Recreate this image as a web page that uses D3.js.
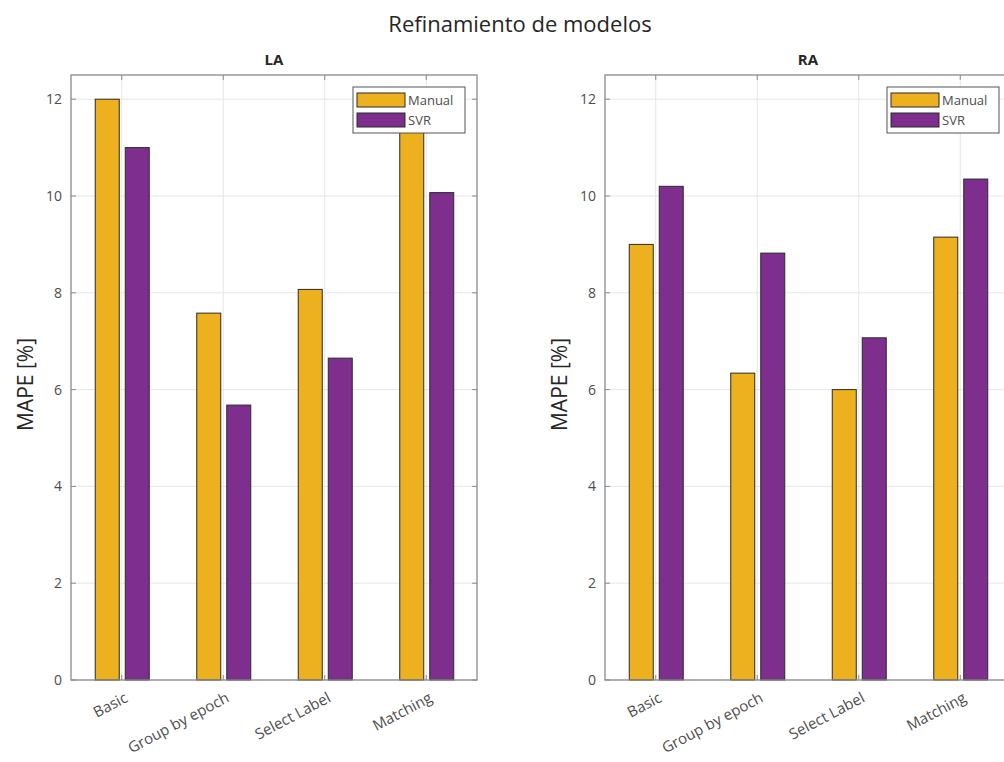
<!DOCTYPE html>
<html>
<head>
<meta charset="utf-8">
<script src="https://cdn.jsdelivr.net/npm/d3@7"></script>
<style>
  html, body { margin: 0; padding: 0; background: #fff; }
  svg { display: block; font-family: "Open Sans", "Noto Sans", sans-serif; }
</style>
</head>
<body>
<svg id="chart" width="1004" height="762"></svg>
<script>
// Categories, series and values for both panels
const categories = ["Basic", "Group by epoch", "Select Label", "Matching"];
const seriesNames = ["Manual", "SVR"];
const seriesColors = ["#EDB120", "#7E2F8E"];
const laManual = [12.0, 7.58, 8.07, 11.6];
const laSVR = [11.0, 5.68, 6.65, 10.07];
const raManual = [9.0, 6.34, 6.0, 9.15];
const raSVR = [10.2, 8.82, 7.07, 10.35];
const yTicks = [0, 2, 4, 6, 8, 10, 12];
const yMax = 12.5;

const svg = d3.select("#chart");

svg.append("text")
  .attr("x", 520).attr("y", 32)
  .attr("text-anchor", "middle")
  .attr("font-size", 22)
  .attr("fill", "#262626")
  .text("Refinamiento de modelos");

function panel(title, left, manual, svr) {
  const top = 75, bottom = 680, width = 406;
  const g = svg.append("g");
  const x = d3.scaleBand().domain(categories).range([left, left + width]).padding(0);
  const xs = d3.scaleBand().domain(seriesNames).range([0, 54]).paddingInner(0.2);
  const y = d3.scaleLinear().domain([0, yMax]).range([bottom, top]);

  // grid
  g.selectAll(".gy").data(yTicks).join("line")
    .attr("x1", left).attr("x2", left + width)
    .attr("y1", d => y(d)).attr("y2", d => y(d))
    .attr("stroke", "#e6e6e6").attr("stroke-width", 1);
  g.selectAll(".gx").data(categories).join("line")
    .attr("x1", d => x(d) + x.bandwidth() / 2).attr("x2", d => x(d) + x.bandwidth() / 2)
    .attr("y1", top).attr("y2", bottom)
    .attr("stroke", "#e6e6e6").attr("stroke-width", 1);

  // bars
  const rows = categories.map((c, i) => ({ c, vals: [manual[i], svr[i]] }));
  rows.forEach(r => {
    r.vals.forEach((v, k) => {
      const cx = x(r.c) + x.bandwidth() / 2 - 27 + xs(seriesNames[k]);
      g.append("rect")
        .attr("x", cx + 0.5).attr("y", y(v))
        .attr("width", xs.bandwidth()).attr("height", y(0) - y(v))
        .attr("fill", seriesColors[k])
        .attr("stroke", "#2a2a2a").attr("stroke-width", 1);
    });
  });

  // axes box
  g.append("rect")
    .attr("x", left).attr("y", top).attr("width", width).attr("height", bottom - top)
    .attr("fill", "none").attr("stroke", "#8a8a8a").attr("stroke-width", 1.3);

  // ticks
  const tl = 5;
  yTicks.forEach(t => {
    g.append("line").attr("x1", left).attr("x2", left + tl).attr("y1", y(t)).attr("y2", y(t)).attr("stroke", "#8a8a8a");
    g.append("line").attr("x1", left + width).attr("x2", left + width - tl).attr("y1", y(t)).attr("y2", y(t)).attr("stroke", "#8a8a8a");
  });
  categories.forEach(c => {
    const cx = x(c) + x.bandwidth() / 2;
    g.append("line").attr("x1", cx).attr("x2", cx).attr("y1", bottom).attr("y2", bottom - tl).attr("stroke", "#8a8a8a");
    g.append("line").attr("x1", cx).attr("x2", cx).attr("y1", top).attr("y2", top + tl).attr("stroke", "#8a8a8a");
  });

  // tick labels
  g.selectAll(".yl").data(yTicks).join("text")
    .attr("x", left - 9).attr("y", d => y(d))
    .attr("dy", "0.35em").attr("text-anchor", "end")
    .attr("font-size", 14).attr("fill", "#4d4d4d")
    .text(d => d);
  g.selectAll(".xl").data(categories).join("text")
    .attr("text-anchor", "end")
    .attr("font-size", 15).attr("fill", "#4d4d4d")
    .attr("transform", d => `translate(${x(d) + x.bandwidth() / 2 + 7},${bottom + 21}) rotate(-28)`)
    .text(d => d);

  // y label
  g.append("text")
    .attr("transform", `translate(${left - 38},${(top + bottom) / 2 + 7}) rotate(-90)`)
    .attr("text-anchor", "middle")
    .attr("font-size", 21).attr("fill", "#262626")
    .text("MAPE [%]");

  // title
  g.append("text")
    .attr("x", left + width / 2).attr("y", 65)
    .attr("text-anchor", "middle")
    .attr("font-size", 15).attr("font-weight", "bold").attr("fill", "#262626")
    .text(title);

  // legend
  const lx = left + width - 124, ly = 87;
  const lg = g.append("g");
  lg.append("rect").attr("x", lx).attr("y", ly).attr("width", 112).attr("height", 46)
    .attr("fill", "#fff").attr("stroke", "#555").attr("stroke-width", 1);
  seriesNames.forEach((s, k) => {
    lg.append("rect").attr("x", lx + 4).attr("y", ly + 6 + k * 20).attr("width", 48).attr("height", 14)
      .attr("fill", seriesColors[k]).attr("stroke", "#2a2a2a");
    lg.append("text").attr("x", lx + 55).attr("y", ly + 13 + k * 20).attr("dy", "0.35em")
      .attr("font-size", 13).attr("fill", "#4d4d4d").text(s);
  });
}

panel("LA", 71, laManual, laSVR);
panel("RA", 605, raManual, raSVR);
</script>
</body>
</html>
